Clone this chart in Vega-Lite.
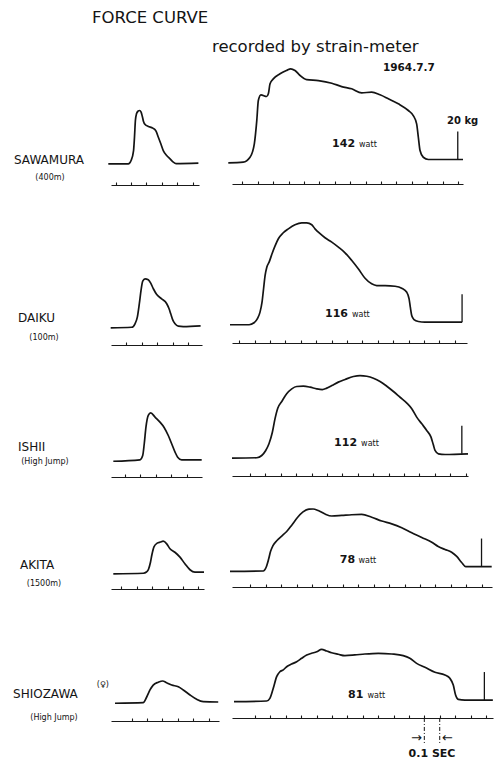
{
  "$schema": "https://vega.github.io/schema/vega-lite/v6.json",
  "background": "white",
  "padding": {"left": 13, "top": 0, "right": 0, "bottom": 0},
  "datasets": {
    "info": [
      {"athlete": "SAWAMURA", "event": "(400m)", "watt": 142},
      {"athlete": "DAIKU", "event": "(100m)", "watt": 116},
      {"athlete": "ISHII", "event": "(High Jump)", "watt": 112},
      {"athlete": "AKITA", "event": "(1500m)", "watt": 78},
      {"athlete": "SHIOZAWA", "event": "(High Jump)", "watt": 81}
    ],
    "sawamura_left": [
      {"t": 0.053, "kg": -0.6}, {"t": 0.183, "kg": -0.6}, {"t": 0.201, "kg": 1.8}, {"t": 0.217, "kg": 8.9},
      {"t": 0.223, "kg": 18.4}, {"t": 0.229, "kg": 30.4}, {"t": 0.236, "kg": 35.1}, {"t": 0.246, "kg": 37.0},
      {"t": 0.256, "kg": 37.5}, {"t": 0.266, "kg": 36.3}, {"t": 0.274, "kg": 33.2}, {"t": 0.281, "kg": 29.9},
      {"t": 0.292, "kg": 27.5}, {"t": 0.313, "kg": 26.1}, {"t": 0.342, "kg": 24.9}, {"t": 0.363, "kg": 22.7},
      {"t": 0.378, "kg": 18.4}, {"t": 0.394, "kg": 13.7}, {"t": 0.41, "kg": 8.9}, {"t": 0.432, "kg": 5.4},
      {"t": 0.454, "kg": 3.0}, {"t": 0.475, "kg": 0.6}, {"t": 0.493, "kg": -0.4}, {"t": 0.638, "kg": -0.1}
    ],
    "sawamura_right": [
      {"t": 0.009, "kg": 0.1}, {"t": 0.106, "kg": 0.6}, {"t": 0.15, "kg": 4.1}, {"t": 0.178, "kg": 13.7},
      {"t": 0.194, "kg": 30.4}, {"t": 0.204, "kg": 44.6}, {"t": 0.221, "kg": 48.7}, {"t": 0.258, "kg": 47.5},
      {"t": 0.269, "kg": 49.4}, {"t": 0.28, "kg": 56.6}, {"t": 0.301, "kg": 60.1}, {"t": 0.345, "kg": 63.7},
      {"t": 0.388, "kg": 66.1}, {"t": 0.414, "kg": 67.3}, {"t": 0.442, "kg": 66.1}, {"t": 0.475, "kg": 62.5},
      {"t": 0.518, "kg": 59.6}, {"t": 0.594, "kg": 58.9}, {"t": 0.681, "kg": 57.0}, {"t": 0.745, "kg": 54.6},
      {"t": 0.81, "kg": 53.0}, {"t": 0.875, "kg": 50.1}, {"t": 0.94, "kg": 50.6}, {"t": 0.994, "kg": 48.7},
      {"t": 1.048, "kg": 45.9}, {"t": 1.113, "kg": 42.3}, {"t": 1.178, "kg": 37.5}, {"t": 1.21, "kg": 33.9},
      {"t": 1.232, "kg": 28.0}, {"t": 1.243, "kg": 18.4}, {"t": 1.254, "kg": 8.9}, {"t": 1.275, "kg": 4.1},
      {"t": 1.308, "kg": 2.5}, {"t": 1.533, "kg": 2.5}
    ],
    "daiku_left": [
      {"t": -0.002, "kg": -1.3}, {"t": 0.134, "kg": -0.9}, {"t": 0.156, "kg": 1.6}, {"t": 0.171, "kg": 6.3},
      {"t": 0.184, "kg": 15.9}, {"t": 0.195, "kg": 25.4}, {"t": 0.206, "kg": 32.0}, {"t": 0.221, "kg": 33.7},
      {"t": 0.242, "kg": 33.0}, {"t": 0.258, "kg": 30.6}, {"t": 0.275, "kg": 26.6}, {"t": 0.297, "kg": 22.5},
      {"t": 0.329, "kg": 19.4}, {"t": 0.362, "kg": 15.9}, {"t": 0.377, "kg": 12.3}, {"t": 0.388, "kg": 8.7},
      {"t": 0.401, "kg": 4.4}, {"t": 0.416, "kg": 1.6}, {"t": 0.437, "kg": -0.1}, {"t": 0.469, "kg": -0.4},
      {"t": 0.582, "kg": 0.1}
    ],
    "daiku_right": [
      {"t": 0.04, "kg": 0.9}, {"t": 0.164, "kg": 0.9}, {"t": 0.196, "kg": 2.3}, {"t": 0.219, "kg": 5.4},
      {"t": 0.235, "kg": 9.9}, {"t": 0.248, "kg": 17.0}, {"t": 0.258, "kg": 26.6}, {"t": 0.268, "kg": 36.1},
      {"t": 0.279, "kg": 42.0}, {"t": 0.294, "kg": 45.6}, {"t": 0.313, "kg": 51.6}, {"t": 0.332, "kg": 57.0},
      {"t": 0.354, "kg": 62.3}, {"t": 0.386, "kg": 66.6}, {"t": 0.419, "kg": 69.4}, {"t": 0.462, "kg": 72.3},
      {"t": 0.506, "kg": 73.7}, {"t": 0.538, "kg": 73.7}, {"t": 0.571, "kg": 72.3}, {"t": 0.592, "kg": 69.4},
      {"t": 0.625, "kg": 65.9}, {"t": 0.657, "kg": 63.0}, {"t": 0.701, "kg": 59.9}, {"t": 0.744, "kg": 56.3},
      {"t": 0.787, "kg": 52.3}, {"t": 0.831, "kg": 46.8}, {"t": 0.873, "kg": 40.9}, {"t": 0.917, "kg": 34.1},
      {"t": 0.96, "kg": 30.1}, {"t": 0.993, "kg": 28.9}, {"t": 1.047, "kg": 28.9}, {"t": 1.112, "kg": 28.4},
      {"t": 1.155, "kg": 27.0}, {"t": 1.188, "kg": 24.1}, {"t": 1.203, "kg": 19.4}, {"t": 1.211, "kg": 13.4},
      {"t": 1.22, "kg": 7.5}, {"t": 1.235, "kg": 4.6}, {"t": 1.263, "kg": 3.2}, {"t": 1.306, "kg": 2.7},
      {"t": 1.547, "kg": 2.7}
    ],
    "ishii_left": [
      {"t": 0.024, "kg": -1.6}, {"t": 0.197, "kg": -0.6}, {"t": 0.215, "kg": 2.5}, {"t": 0.225, "kg": 10.9},
      {"t": 0.236, "kg": 22.7}, {"t": 0.251, "kg": 31.1}, {"t": 0.267, "kg": 33.0}, {"t": 0.295, "kg": 29.9},
      {"t": 0.327, "kg": 26.3}, {"t": 0.353, "kg": 22.7}, {"t": 0.381, "kg": 16.8}, {"t": 0.403, "kg": 10.9},
      {"t": 0.425, "kg": 4.9}, {"t": 0.442, "kg": 1.3}, {"t": 0.468, "kg": -0.6}, {"t": 0.598, "kg": -0.6}
    ],
    "ishii_right": [
      {"t": -0.017, "kg": 0.6}, {"t": 0.144, "kg": 0.9}, {"t": 0.176, "kg": 2.5}, {"t": 0.202, "kg": 6.1},
      {"t": 0.223, "kg": 10.9}, {"t": 0.245, "kg": 19.1}, {"t": 0.262, "kg": 28.7}, {"t": 0.28, "kg": 36.3},
      {"t": 0.306, "kg": 41.1}, {"t": 0.338, "kg": 46.6}, {"t": 0.371, "kg": 50.1}, {"t": 0.403, "kg": 51.8},
      {"t": 0.446, "kg": 52.0}, {"t": 0.49, "kg": 51.3}, {"t": 0.533, "kg": 50.1}, {"t": 0.569, "kg": 49.6},
      {"t": 0.598, "kg": 50.6}, {"t": 0.631, "kg": 52.5}, {"t": 0.673, "kg": 54.9}, {"t": 0.717, "kg": 56.8},
      {"t": 0.771, "kg": 58.9}, {"t": 0.814, "kg": 59.6}, {"t": 0.858, "kg": 59.1}, {"t": 0.901, "kg": 57.7},
      {"t": 0.944, "kg": 55.4}, {"t": 0.988, "kg": 52.0}, {"t": 1.031, "kg": 48.2}, {"t": 1.074, "kg": 44.1},
      {"t": 1.118, "kg": 39.9}, {"t": 1.15, "kg": 35.9}, {"t": 1.182, "kg": 29.9}, {"t": 1.215, "kg": 25.1},
      {"t": 1.247, "kg": 20.4}, {"t": 1.275, "kg": 15.6}, {"t": 1.29, "kg": 10.1}, {"t": 1.301, "kg": 6.1},
      {"t": 1.323, "kg": 3.7}, {"t": 1.366, "kg": 3.2}, {"t": 1.515, "kg": 3.7}
    ],
    "akita_left": [
      {"t": 0.047, "kg": -1.3}, {"t": 0.242, "kg": -0.9}, {"t": 0.262, "kg": 0.0}, {"t": 0.275, "kg": 1.8},
      {"t": 0.288, "kg": 6.8}, {"t": 0.298, "kg": 12.5}, {"t": 0.311, "kg": 17.9}, {"t": 0.332, "kg": 20.6},
      {"t": 0.353, "kg": 21.4}, {"t": 0.371, "kg": 22.0}, {"t": 0.394, "kg": 20.1}, {"t": 0.415, "kg": 16.6},
      {"t": 0.447, "kg": 14.1}, {"t": 0.48, "kg": 10.6}, {"t": 0.512, "kg": 5.9}, {"t": 0.545, "kg": 1.6},
      {"t": 0.577, "kg": -0.1}, {"t": 0.636, "kg": -0.1}
    ],
    "akita_right": [
      {"t": -0.033, "kg": 0.4}, {"t": 0.183, "kg": 0.7}, {"t": 0.201, "kg": 3.2}, {"t": 0.217, "kg": 8.9},
      {"t": 0.23, "kg": 14.6}, {"t": 0.246, "kg": 18.9}, {"t": 0.272, "kg": 22.5}, {"t": 0.303, "kg": 25.7},
      {"t": 0.335, "kg": 28.9}, {"t": 0.369, "kg": 33.6}, {"t": 0.405, "kg": 38.9}, {"t": 0.441, "kg": 42.9},
      {"t": 0.48, "kg": 44.9}, {"t": 0.506, "kg": 45.0}, {"t": 0.54, "kg": 43.9}, {"t": 0.584, "kg": 41.4},
      {"t": 0.627, "kg": 40.0}, {"t": 0.692, "kg": 40.4}, {"t": 0.757, "kg": 40.9}, {"t": 0.822, "kg": 41.1},
      {"t": 0.887, "kg": 39.1}, {"t": 0.952, "kg": 36.4}, {"t": 1.017, "kg": 34.4}, {"t": 1.082, "kg": 31.6},
      {"t": 1.147, "kg": 28.0}, {"t": 1.212, "kg": 24.6}, {"t": 1.277, "kg": 21.3}, {"t": 1.319, "kg": 18.2},
      {"t": 1.363, "kg": 16.1}, {"t": 1.406, "kg": 14.1}, {"t": 1.439, "kg": 11.1}, {"t": 1.471, "kg": 6.8},
      {"t": 1.497, "kg": 3.9}, {"t": 1.666, "kg": 3.9}
    ],
    "shiozawa_left": [
      {"t": -0.008, "kg": -0.9}, {"t": 0.175, "kg": -0.5}, {"t": 0.197, "kg": 3.4}, {"t": 0.219, "kg": 8.6},
      {"t": 0.24, "kg": 12.1}, {"t": 0.273, "kg": 14.1}, {"t": 0.301, "kg": 15.0}, {"t": 0.327, "kg": 13.8},
      {"t": 0.36, "kg": 12.1}, {"t": 0.403, "kg": 10.9}, {"t": 0.435, "kg": 8.6}, {"t": 0.479, "kg": 5.0},
      {"t": 0.522, "kg": 1.9}, {"t": 0.565, "kg": 0.2}, {"t": 0.662, "kg": 0.0}
    ],
    "shiozawa_right": [
      {"t": -0.036, "kg": 0.2}, {"t": 0.176, "kg": 0.7}, {"t": 0.197, "kg": 2.6}, {"t": 0.219, "kg": 9.8},
      {"t": 0.241, "kg": 18.1}, {"t": 0.262, "kg": 21.6}, {"t": 0.284, "kg": 22.9}, {"t": 0.306, "kg": 25.2},
      {"t": 0.338, "kg": 27.1}, {"t": 0.371, "kg": 28.8}, {"t": 0.403, "kg": 31.2}, {"t": 0.436, "kg": 33.6},
      {"t": 0.468, "kg": 34.8}, {"t": 0.501, "kg": 35.9}, {"t": 0.533, "kg": 37.6}, {"t": 0.566, "kg": 36.4},
      {"t": 0.598, "kg": 35.2}, {"t": 0.641, "kg": 34.1}, {"t": 0.684, "kg": 33.1}, {"t": 0.749, "kg": 33.6},
      {"t": 0.814, "kg": 34.3}, {"t": 0.901, "kg": 34.8}, {"t": 0.988, "kg": 34.3}, {"t": 1.063, "kg": 33.1},
      {"t": 1.106, "kg": 31.2}, {"t": 1.15, "kg": 27.6}, {"t": 1.204, "kg": 24.8}, {"t": 1.269, "kg": 21.2},
      {"t": 1.334, "kg": 19.3}, {"t": 1.366, "kg": 16.9}, {"t": 1.388, "kg": 12.1}, {"t": 1.403, "kg": 5.0},
      {"t": 1.42, "kg": 1.9}, {"t": 1.464, "kg": 1.4}, {"t": 1.645, "kg": 1.4}
    ]
  },
  "concat": [
    {
      "width": 88, "height": 163,
      "layer": [
        {"data": {"name": "sawamura_left"}, "mark": "line",
         "encoding": {
           "x": {"field": "t", "type": "quantitative", "scale": {"domain": [0.0705, 0.642], "nice": false, "zero": false}, "axis": {"orient": "top", "values": [0.1, 0.2, 0.3, 0.4, 0.5, 0.6], "tickCount": 40, "offset": -185, "title": null}},
           "y": {"field": "kg", "type": "quantitative", "scale": {"domain": [0, 116.4286], "nice": false, "zero": false}, "axis": null}}},
        {"data": {"name": "info"}, "transform": [{"filter": "datum.athlete == 'SAWAMURA'"}],
         "mark": {"type": "text", "align": "left", "fontSize": 12},
         "encoding": {"x": {"datum": -0.5595}, "y": {"datum": -0.7}, "text": {"field": "athlete"}}},
        {"data": {"name": "info"}, "transform": [{"filter": "datum.athlete == 'SAWAMURA'"}],
         "mark": {"type": "text", "align": "center", "fontSize": 8},
         "encoding": {"x": {"datum": -0.3255}, "y": {"datum": -12.1}, "text": {"field": "event"}}},
        {"data": {"name": "info"}, "transform": [{"filter": "datum.athlete == 'SAWAMURA'"}],
         "mark": {"type": "text", "align": "left", "fontSize": 16.5},
         "encoding": {"x": {"datum": -0.0525}, "y": {"datum": 100}, "text": {"value": "FORCE CURVE"}}}
      ]
    },
    {
      "width": 231, "height": 163,
      "layer": [
        {"data": {"name": "sawamura_right"}, "mark": "line",
         "encoding": {
           "x": {"field": "t", "type": "quantitative", "scale": {"domain": [0.033, 1.533], "nice": false, "zero": false}, "axis": {"orient": "top", "values": [0.1, 0.2, 0.3, 0.4, 0.5, 0.6, 0.7, 0.8, 0.9, 1.0, 1.1, 1.2, 1.3, 1.4, 1.5], "tickCount": 40, "offset": -184, "title": null}},
           "y": {"field": "kg", "type": "quantitative", "scale": {"domain": [0, 116.4286], "nice": false, "zero": false}, "axis": null}}},
        {"data": {"name": "info"}, "transform": [{"filter": "datum.athlete == 'SAWAMURA'"}],
         "mark": {"type": "text", "align": "left", "fontSize": 16.5},
         "encoding": {"x": {"datum": -0.097}, "y": {"datum": 79.3}, "text": {"value": "recorded by strain-meter"}}},
        {"data": {"name": "info"}, "transform": [{"filter": "datum.athlete == 'SAWAMURA'"}],
         "mark": {"type": "text", "align": "left", "fontSize": 10.5, "fontWeight": "bold"},
         "encoding": {"x": {"datum": 1.013}, "y": {"datum": 65.4}, "text": {"value": "1964.7.7"}}},
        {"data": {"name": "info"}, "transform": [{"filter": "datum.athlete == 'SAWAMURA'"}],
         "mark": {"type": "text", "align": "left", "fontSize": 10, "fontWeight": "bold"},
         "encoding": {"x": {"datum": 1.429}, "y": {"datum": 27.9}, "text": {"value": "20 kg"}}},
        {"data": {"name": "info"}, "transform": [{"filter": "datum.athlete == 'SAWAMURA'"}],
         "mark": {"type": "text", "align": "right", "fontSize": 11, "fontWeight": "bold"},
         "encoding": {"x": {"datum": 0.832}, "y": {"datum": 11.4}, "text": {"field": "watt"}}},
        {"data": {"name": "info"}, "transform": [{"filter": "datum.athlete == 'SAWAMURA'"}],
         "mark": {"type": "text", "align": "left", "fontSize": 8},
         "encoding": {"x": {"datum": 0.858}, "y": {"datum": 11.4}, "text": {"value": "watt"}}},
        {"data": {"name": "info"}, "transform": [{"filter": "datum.athlete == 'SAWAMURA'"}],
         "mark": "rule",
         "encoding": {"x": {"datum": 1.499}, "y": {"datum": 2.5}, "y2": {"datum": 22.5}}}
      ]
    },
    {
      "width": 91, "height": 143,
      "layer": [
        {"data": {"name": "daiku_left"}, "mark": "line",
         "encoding": {
           "x": {"field": "t", "type": "quantitative", "scale": {"domain": [0.0, 0.591], "nice": false, "zero": false}, "axis": {"orient": "top", "values": [0.1, 0.2, 0.3, 0.4, 0.5], "tickCount": 40, "offset": -162, "title": null}},
           "y": {"field": "kg", "type": "quantitative", "scale": {"domain": [0, 102.1429], "nice": false, "zero": false}, "axis": null}}},
        {"data": {"name": "info"}, "transform": [{"filter": "datum.athlete == 'DAIKU'"}],
         "mark": {"type": "text", "align": "left", "fontSize": 12},
         "encoding": {"x": {"datum": -0.604}, "y": {"datum": 3.1}, "text": {"field": "athlete"}}},
        {"data": {"name": "info"}, "transform": [{"filter": "datum.athlete == 'DAIKU'"}],
         "mark": {"type": "text", "align": "center", "fontSize": 8},
         "encoding": {"x": {"datum": -0.435}, "y": {"datum": -10}, "text": {"field": "event"}}}
      ]
    },
    {
      "width": 235, "height": 143,
      "layer": [
        {"data": {"name": "daiku_right"}, "mark": "line",
         "encoding": {
           "x": {"field": "t", "type": "quantitative", "scale": {"domain": [0.053, 1.579], "nice": false, "zero": false}, "axis": {"orient": "top", "values": [0.1, 0.2, 0.3, 0.4, 0.5, 0.6, 0.7, 0.8, 0.9, 1.0, 1.1, 1.2, 1.3, 1.4, 1.5], "tickCount": 40, "offset": -160, "title": null}},
           "y": {"field": "kg", "type": "quantitative", "scale": {"domain": [0, 102.1429], "nice": false, "zero": false}, "axis": null}}},
        {"data": {"name": "info"}, "transform": [{"filter": "datum.athlete == 'DAIKU'"}],
         "mark": {"type": "text", "align": "right", "fontSize": 11, "fontWeight": "bold"},
         "encoding": {"x": {"datum": 0.806}, "y": {"datum": 6.1}, "text": {"field": "watt"}}},
        {"data": {"name": "info"}, "transform": [{"filter": "datum.athlete == 'DAIKU'"}],
         "mark": {"type": "text", "align": "left", "fontSize": 8},
         "encoding": {"x": {"datum": 0.832}, "y": {"datum": 6.1}, "text": {"value": "watt"}}},
        {"data": {"name": "info"}, "transform": [{"filter": "datum.athlete == 'DAIKU'"}],
         "mark": "rule",
         "encoding": {"x": {"datum": 1.547}, "y": {"datum": 2.7}, "y2": {"datum": 22.7}}}
      ]
    },
    {
      "width": 91, "height": 113,
      "layer": [
        {"data": {"name": "ishii_left"}, "mark": "line",
         "encoding": {
           "x": {"field": "t", "type": "quantitative", "scale": {"domain": [0.009, 0.6], "nice": false, "zero": false}, "axis": {"orient": "top", "values": [0.1, 0.2, 0.3, 0.4, 0.5], "tickCount": 40, "offset": -131, "title": null}},
           "y": {"field": "kg", "type": "quantitative", "scale": {"domain": [0, 80.7143], "nice": false, "zero": false}, "axis": null}}},
        {"data": {"name": "info"}, "transform": [{"filter": "datum.athlete == 'ISHII'"}],
         "mark": {"type": "text", "align": "left", "fontSize": 12},
         "encoding": {"x": {"datum": -0.595}, "y": {"datum": 5.9}, "text": {"field": "athlete"}}},
        {"data": {"name": "info"}, "transform": [{"filter": "datum.athlete == 'ISHII'"}],
         "mark": {"type": "text", "align": "center", "fontSize": 8},
         "encoding": {"x": {"datum": -0.42}, "y": {"datum": -3.6}, "text": {"field": "event"}}}
      ]
    },
    {
      "width": 236, "height": 113,
      "layer": [
        {"data": {"name": "ishii_right"}, "mark": "line",
         "encoding": {
           "x": {"field": "t", "type": "quantitative", "scale": {"domain": [-0.017, 1.515], "nice": false, "zero": false}, "axis": {"orient": "top", "values": [0.1, 0.2, 0.3, 0.4, 0.5, 0.6, 0.7, 0.8, 0.9, 1.0, 1.1, 1.2, 1.3, 1.4, 1.5], "tickCount": 40, "offset": -130, "title": null}},
           "y": {"field": "kg", "type": "quantitative", "scale": {"domain": [0, 80.7143], "nice": false, "zero": false}, "axis": null}}},
        {"data": {"name": "info"}, "transform": [{"filter": "datum.athlete == 'ISHII'"}],
         "mark": {"type": "text", "align": "right", "fontSize": 11, "fontWeight": "bold"},
         "encoding": {"x": {"datum": 0.795}, "y": {"datum": 9.3}, "text": {"field": "watt"}}},
        {"data": {"name": "info"}, "transform": [{"filter": "datum.athlete == 'ISHII'"}],
         "mark": {"type": "text", "align": "left", "fontSize": 8},
         "encoding": {"x": {"datum": 0.821}, "y": {"datum": 9.3}, "text": {"value": "watt"}}},
        {"data": {"name": "info"}, "transform": [{"filter": "datum.athlete == 'ISHII'"}],
         "mark": "rule",
         "encoding": {"x": {"datum": 1.475}, "y": {"datum": 3.7}, "y2": {"datum": 23.7}}}
      ]
    },
    {
      "width": 93, "height": 93,
      "layer": [
        {"data": {"name": "akita_left"}, "mark": "line",
         "encoding": {
           "x": {"field": "t", "type": "quantitative", "scale": {"domain": [0.032, 0.636], "nice": false, "zero": false}, "axis": {"orient": "top", "values": [0.1, 0.2, 0.3, 0.4, 0.5, 0.6], "tickCount": 40, "offset": -110, "title": null}},
           "y": {"field": "kg", "type": "quantitative", "scale": {"domain": [0, 66.4286], "nice": false, "zero": false}, "axis": null}}},
        {"data": {"name": "info"}, "transform": [{"filter": "datum.athlete == 'AKITA'"}],
         "mark": {"type": "text", "align": "left", "fontSize": 12},
         "encoding": {"x": {"datum": -0.559}, "y": {"datum": 1.9}, "text": {"field": "athlete"}}},
        {"data": {"name": "info"}, "transform": [{"filter": "datum.athlete == 'AKITA'"}],
         "mark": {"type": "text", "align": "center", "fontSize": 8},
         "encoding": {"x": {"datum": -0.403}, "y": {"datum": -10}, "text": {"field": "event"}}}
      ]
    },
    {
      "width": 260, "height": 93,
      "layer": [
        {"data": {"name": "akita_right"}, "mark": "line",
         "encoding": {
           "x": {"field": "t", "type": "quantitative", "scale": {"domain": [-0.02, 1.668], "nice": false, "zero": false}, "axis": {"orient": "top", "values": [0.1, 0.2, 0.3, 0.4, 0.5, 0.6, 0.7, 0.8, 0.9, 1.0, 1.1, 1.2, 1.3, 1.4, 1.5, 1.6], "tickCount": 40, "offset": -108, "title": null}},
           "y": {"field": "kg", "type": "quantitative", "scale": {"domain": [0, 66.4286], "nice": false, "zero": false}, "axis": null}}},
        {"data": {"name": "info"}, "transform": [{"filter": "datum.athlete == 'AKITA'"}],
         "mark": {"type": "text", "align": "right", "fontSize": 11, "fontWeight": "bold"},
         "encoding": {"x": {"datum": 0.779}, "y": {"datum": 6.2}, "text": {"field": "watt"}}},
        {"data": {"name": "info"}, "transform": [{"filter": "datum.athlete == 'AKITA'"}],
         "mark": {"type": "text", "align": "left", "fontSize": 8},
         "encoding": {"x": {"datum": 0.801}, "y": {"datum": 6.2}, "text": {"value": "watt"}}},
        {"data": {"name": "info"}, "transform": [{"filter": "datum.athlete == 'AKITA'"}],
         "mark": "rule",
         "encoding": {"x": {"datum": 1.6}, "y": {"datum": 3.9}, "y2": {"datum": 23.9}}}
      ]
    },
    {
      "width": 108, "height": 110,
      "layer": [
        {"data": {"name": "shiozawa_left"}, "mark": "line",
         "encoding": {
           "x": {"field": "t", "type": "quantitative", "scale": {"domain": [-0.034, 0.667], "nice": false, "zero": false}, "axis": {"orient": "top", "values": [0.1, 0.2, 0.3, 0.4, 0.5, 0.6], "tickCount": 40, "offset": -129, "title": null}},
           "y": {"field": "kg", "type": "quantitative", "scale": {"domain": [0, 78.5714], "nice": false, "zero": false}, "axis": null}}},
        {"data": {"name": "info"}, "transform": [{"filter": "datum.athlete == 'SHIOZAWA'"}],
         "mark": {"type": "text", "align": "left", "fontSize": 12},
         "encoding": {"x": {"datum": -0.67}, "y": {"datum": 2.6}, "text": {"field": "athlete"}}},
        {"data": {"name": "info"}, "transform": [{"filter": "datum.athlete == 'SHIOZAWA'"}],
         "mark": {"type": "text", "align": "left", "fontSize": 8},
         "encoding": {"x": {"datum": -0.127}, "y": {"datum": 10.7}, "text": {"value": "(♀)"}}},
        {"data": {"name": "info"}, "transform": [{"filter": "datum.athlete == 'SHIOZAWA'"}],
         "mark": {"type": "text", "align": "center", "fontSize": 8},
         "encoding": {"x": {"datum": -0.404}, "y": {"datum": -12.9}, "text": {"field": "event"}}}
      ]
    },
    {
      "width": 261, "height": 110,
      "layer": [
        {"data": {"name": "shiozawa_right"}, "mark": "line",
         "encoding": {
           "x": {"field": "t", "type": "quantitative", "scale": {"domain": [-0.049, 1.646], "nice": false, "zero": false}, "axis": {"orient": "top", "values": [0.1, 0.2, 0.3, 0.4, 0.5, 0.6, 0.7, 0.8, 0.9, 1.0, 1.1, 1.2, 1.3, 1.4, 1.5, 1.6], "tickCount": 40, "offset": -126, "title": null}},
           "y": {"field": "kg", "type": "quantitative", "scale": {"domain": [0, 78.5714], "nice": false, "zero": false}, "axis": null}}},
        {"data": {"name": "info"}, "transform": [{"filter": "datum.athlete == 'SHIOZAWA'"}],
         "mark": {"type": "text", "align": "right", "fontSize": 11, "fontWeight": "bold"},
         "encoding": {"x": {"datum": 0.804}, "y": {"datum": 2.6}, "text": {"field": "watt"}}},
        {"data": {"name": "info"}, "transform": [{"filter": "datum.athlete == 'SHIOZAWA'"}],
         "mark": {"type": "text", "align": "left", "fontSize": 8},
         "encoding": {"x": {"datum": 0.831}, "y": {"datum": 2.6}, "text": {"value": "watt"}}},
        {"data": {"name": "info"}, "transform": [{"filter": "datum.athlete == 'SHIOZAWA'"}],
         "mark": "rule",
         "encoding": {"x": {"datum": 1.59}, "y": {"datum": 1.4}, "y2": {"datum": 21.4}}},
        {"data": {"name": "info"}, "transform": [{"filter": "datum.athlete == 'SHIOZAWA'"}],
         "mark": {"type": "rule", "strokeDash": [4, 2, 1, 2], "strokeWidth": 1},
         "encoding": {"x": {"datum": 1.2}, "y": {"datum": -11.4}, "y2": {"datum": -30}}},
        {"data": {"name": "info"}, "transform": [{"filter": "datum.athlete == 'SHIOZAWA'"}],
         "mark": {"type": "rule", "strokeDash": [4, 2, 1, 2], "strokeWidth": 1},
         "encoding": {"x": {"datum": 1.3}, "y": {"datum": -11.4}, "y2": {"datum": -30}}},
        {"data": {"name": "info"}, "transform": [{"filter": "datum.athlete == 'SHIOZAWA'"}],
         "mark": {"type": "text", "align": "right", "baseline": "middle", "fontSize": 13},
         "encoding": {"x": {"datum": 1.185}, "y": {"datum": -25.7}, "text": {"value": "→"}}},
        {"data": {"name": "info"}, "transform": [{"filter": "datum.athlete == 'SHIOZAWA'"}],
         "mark": {"type": "text", "align": "left", "baseline": "middle", "fontSize": 13},
         "encoding": {"x": {"datum": 1.315}, "y": {"datum": -25.7}, "text": {"value": "←"}}},
        {"data": {"name": "info"}, "transform": [{"filter": "datum.athlete == 'SHIOZAWA'"}],
         "mark": {"type": "text", "align": "center", "fontSize": 11, "fontWeight": "bold"},
         "encoding": {"x": {"datum": 1.25}, "y": {"datum": -39.3}, "text": {"value": "0.1 SEC"}}}
      ]
    }
  ],
  "columns": 2,
  "align": "each",
  "bounds": "flush",
  "spacing": {"row": 20, "column": 13},
  "config": {
    "view": {"stroke": null},
    "axis": {"grid": false, "labels": false, "domain": true, "ticks": true, "tickCount": 40, "domainColor": "#1a1a1a", "tickColor": "#1a1a1a", "tickSize": 3, "domainWidth": 1.1, "tickWidth": 1.1},
    "line": {"color": "#141414", "strokeWidth": 1.7, "interpolate": "monotone"},
    "text": {"font": "DejaVu Sans", "color": "#141414", "baseline": "alphabetic"},
    "rule": {"color": "#141414", "strokeWidth": 1.3}
  }
}
